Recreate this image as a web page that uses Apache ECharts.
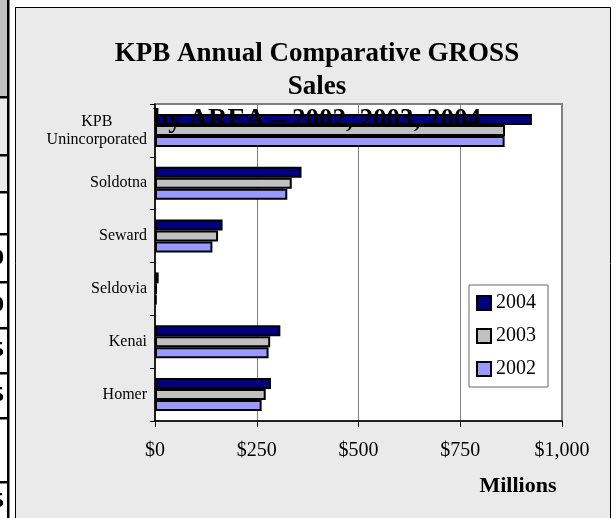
<!DOCTYPE html>
<html>
<head>
<meta charset="utf-8">
<script src="https://cdn.jsdelivr.net/npm/echarts@6/dist/echarts.min.js"></script>
<style>
html,body{margin:0;padding:0;background:#fff;}
#chart{width:616px;height:518px;}
</style>
</head>
<body>
<div id="chart"></div>
<script>
const categories = ['Homer', 'Kenai', 'Seldovia', 'Seward', 'Soldotna', 'KPB\nUnincorporated'];
const years = ['2004', '2003', '2002'];
const v2004 = [285, 308, 9, 166, 360, 926];
const v2003 = [272, 283, 5, 155, 336, 860];
const v2002 = [262, 279, 4, 141, 325, 859];
const xTicks = [0, 250, 500, 750, 1000];
const titleLines = ['KPB Annual Comparative GROSS', 'Sales', 'by AREA \u2013 2002, 2003, 2004'];
const axisTitle = 'Millions';

const FONT = 'Liberation Serif';
const colors = {'2004': '#000080', '2003': '#C0C0C0', '2002': '#9999FF'};
const values = {'2004': v2004, '2003': v2003, '2002': v2002};

const chart = echarts.init(document.getElementById('chart'), null, {renderer: 'canvas'});

// decorative left strip (edge of neighbouring table)
const stripLines = [97, 155, 192, 234, 282, 328, 373, 418, 482];
const stripGraphics = [
  {type: 'rect', shape: {x: 0, y: 0, width: 8, height: 97}, style: {fill: '#C0C0C0'}, silent: true},
  {type: 'rect', shape: {x: 0, y: 97, width: 8, height: 95}, style: {fill: '#EAEAEA'}, silent: true},
  {type: 'rect', shape: {x: 7, y: 0, width: 2.5, height: 518}, style: {fill: '#000'}, silent: true}
];
stripLines.forEach(y => stripGraphics.push({type: 'rect', shape: {x: 0, y: y - 1, width: 8, height: 2.5}, style: {fill: '#000'}, silent: true}));
[['0', 258], ['0', 305], ['5', 350], ['5', 395], ['5', 501]].forEach(([t, y]) => stripGraphics.push({
  type: 'text', x: 4, y: y, style: {text: t, fill: '#000', font: 'bold 22px "' + FONT + '"', align: 'right', verticalAlign: 'middle'}, silent: true
}));

const option = {
  backgroundColor: '#ffffff',
  animation: false,
  graphic: [
    {type: 'rect', z: -10, shape: {x: 15.5, y: 7.5, width: 595, height: 520}, style: {fill: '#EAEAEA', stroke: '#000', lineWidth: 1}, silent: true},
    ...stripGraphics,
    {type: 'text', x: 518, y: 486, z: 10, style: {text: axisTitle, fill: '#000', font: 'bold 22px "' + FONT + '"', align: 'center', verticalAlign: 'middle'}, silent: true}
  ],
  title: {
    text: titleLines.join('\n'),
    left: 312,
    top: 33,
    textAlign: 'center',
    z: 20,
    textStyle: {fontFamily: FONT, fontSize: 27, fontWeight: 'bold', color: '#000', lineHeight: 33}
  },
  legend: {
    orient: 'vertical',
    left: 469,
    top: 285,
    data: years,
    backgroundColor: '#ffffff',
    borderColor: '#666',
    borderWidth: 1,
    borderRadius: 0,
    padding: [8, 12, 8, 7],
    itemGap: 13,
    itemWidth: 14,
    itemHeight: 14,
    icon: 'rect',
    itemStyle: {borderColor: '#000', borderWidth: 2},
    textStyle: {fontFamily: FONT, fontSize: 20, color: '#000', lineHeight: 20}
  },
  grid: {
    left: 155, top: 104, right: 54, bottom: 97,
    show: true, backgroundColor: '#ffffff', borderColor: '#808080', borderWidth: 2,
    containLabel: false
  },
  xAxis: {
    type: 'value',
    min: xTicks[0], max: xTicks[xTicks.length - 1], interval: 250,
    axisLine: {show: true, lineStyle: {color: '#000', width: 1.5}},
    axisTick: {show: true, length: 6, lineStyle: {color: '#000', width: 1}},
    splitLine: {show: true, lineStyle: {color: '#808080', width: 1}},
    axisLabel: {
      margin: 20, color: '#000', fontFamily: FONT, fontSize: 20,
      formatter: v => '$' + v.toLocaleString('en-US')
    }
  },
  yAxis: {
    type: 'category',
    data: categories,
    axisLine: {show: true, lineStyle: {color: '#000', width: 1.5}},
    axisTick: {show: true, length: 5, lineStyle: {color: '#000', width: 1}},
    splitLine: {show: false},
    axisLabel: {
      margin: 8, color: '#000', fontFamily: FONT, fontSize: 16, lineHeight: 18,
      formatter: v => v.split('\n').map(s => '{c|' + s + '}').join('\n'),
      rich: {c: {align: 'center', fontFamily: FONT, fontSize: 16, lineHeight: 18, color: '#000'}}
    }
  },
  series: years.map(y => ({
    name: y,
    type: 'bar',
    data: values[y],
    barWidth: 11,
    barGap: '0%',
    itemStyle: {color: colors[y], borderColor: '#000', borderWidth: 2}
  }))
};
chart.setOption(option);
</script>
</body>
</html>
